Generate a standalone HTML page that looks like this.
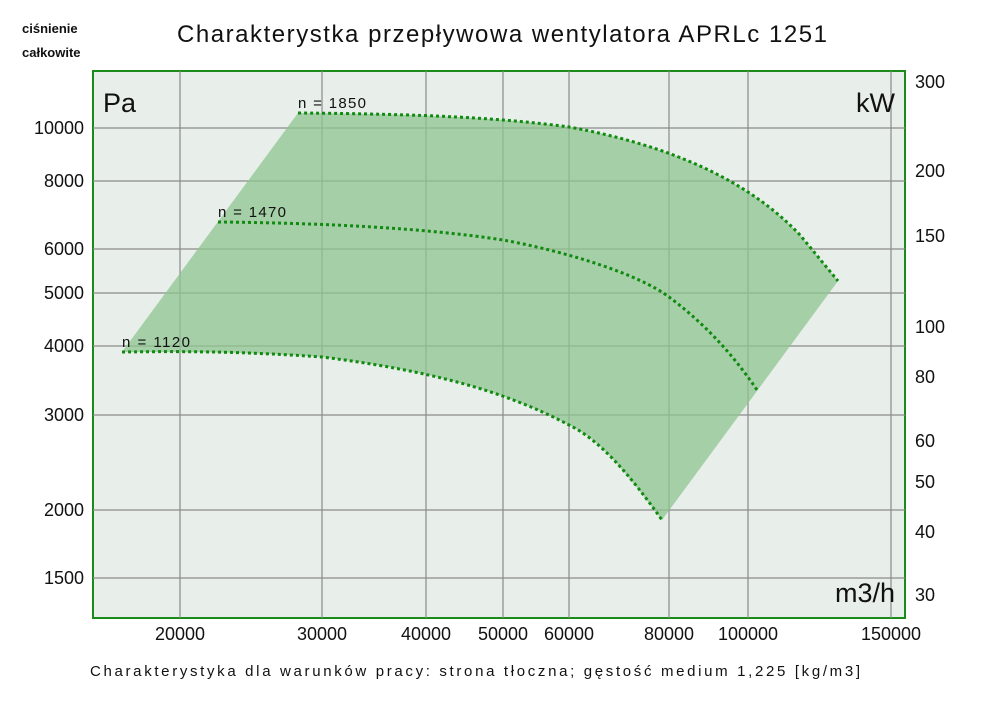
<!DOCTYPE html>
<html><head><meta charset="utf-8"><style>
body{margin:0;background:#fff;}
svg text{font-family:"Liberation Sans",sans-serif;fill:#111;}
</style></head><body>
<svg width="1000" height="706" viewBox="0 0 1000 706" xmlns="http://www.w3.org/2000/svg">
<rect x="93" y="71" width="812" height="547" fill="#e8eeea" stroke="#1a8a1a" stroke-width="2"/>
<g stroke="#8a8a8a" stroke-width="1.2">
<line x1="180" y1="71" x2="180" y2="618"/><line x1="322" y1="71" x2="322" y2="618"/>
<line x1="426" y1="71" x2="426" y2="618"/><line x1="503" y1="71" x2="503" y2="618"/>
<line x1="569" y1="71" x2="569" y2="618"/><line x1="669" y1="71" x2="669" y2="618"/>
<line x1="748" y1="71" x2="748" y2="618"/><line x1="891" y1="71" x2="891" y2="618"/>
<line x1="93" y1="128" x2="905" y2="128"/><line x1="93" y1="181" x2="905" y2="181"/>
<line x1="93" y1="249" x2="905" y2="249"/><line x1="93" y1="293" x2="905" y2="293"/>
<line x1="93" y1="346" x2="905" y2="346"/><line x1="93" y1="415" x2="905" y2="415"/>
<line x1="93" y1="510" x2="905" y2="510"/><line x1="93" y1="578" x2="905" y2="578"/>
</g>
<path d="M298,113 C426,114 503,118 569,127 C669,145 748,180 800,235 L838,281 L662,520 C620,465 600,440 569,425 C503,390 426,370 322,357 C250,352 200,352 122,352 Z" fill="#8fc48f" fill-opacity="0.75"/>
<g fill="none" stroke="#108a10" stroke-width="3" stroke-dasharray="3 3">
<path d="M298,113 C426,114 503,118 569,127 C669,145 748,180 800,235 L838,281"/>
<path d="M218,222 C322,223 426,228 503,240 C569,252 640,275 669,297 C700,320 730,350 757,390"/>
<path d="M122,352 C200,351 250,352 322,357 C426,370 503,390 569,425 C600,440 630,475 662,520"/>
</g>
<text x="298" y="108" font-size="15" textLength="68">n = 1850</text>
<text x="218" y="217" font-size="15" textLength="68">n = 1470</text>
<text x="122" y="347" font-size="15" textLength="68">n = 1120</text>
<text x="103" y="112" font-size="27">Pa</text>
<text x="895" y="112" font-size="27" text-anchor="end">kW</text>
<text x="895" y="602" font-size="27" text-anchor="end">m3/h</text>
<text x="177" y="42" font-size="24" textLength="650">Charakterystka przepływowa wentylatora APRLc 1251</text>
<text x="22" y="33" font-size="13" font-weight="bold">ciśnienie</text>
<text x="22" y="57" font-size="13" font-weight="bold">całkowite</text>
<g font-size="18" text-anchor="end">
<text x="84" y="134">10000</text><text x="84" y="187">8000</text><text x="84" y="255">6000</text>
<text x="84" y="299">5000</text><text x="84" y="352">4000</text><text x="84" y="421">3000</text>
<text x="84" y="516">2000</text><text x="84" y="584">1500</text>
</g>
<g font-size="18">
<text x="915" y="88">300</text><text x="915" y="177">200</text><text x="915" y="242">150</text>
<text x="915" y="333">100</text><text x="915" y="383">80</text><text x="915" y="447">60</text>
<text x="915" y="488">50</text><text x="915" y="538">40</text><text x="915" y="601">30</text>
</g>
<g font-size="18" text-anchor="middle">
<text x="180" y="640">20000</text><text x="322" y="640">30000</text><text x="426" y="640">40000</text>
<text x="503" y="640">50000</text><text x="569" y="640">60000</text><text x="669" y="640">80000</text>
<text x="748" y="640">100000</text><text x="891" y="640">150000</text>
</g>
<text x="90" y="676" font-size="15" textLength="770">Charakterystyka dla warunków pracy: strona tłoczna; gęstość medium 1,225 [kg/m3]</text>
</svg>
</body></html>
